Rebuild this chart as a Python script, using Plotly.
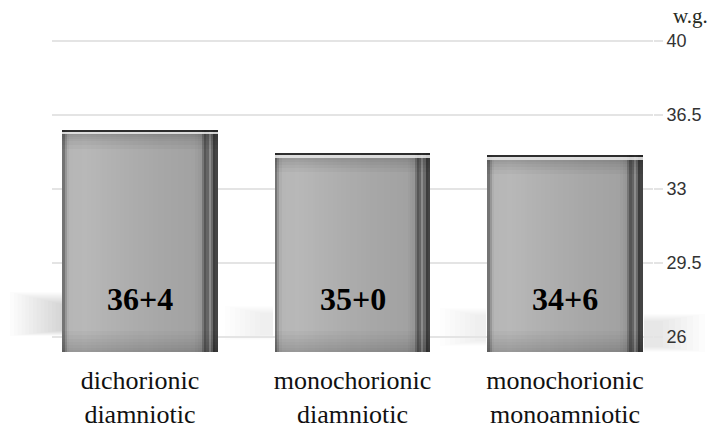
import plotly.graph_objects as go

# ---- data ----
categories = ["dichorionic<br>diamniotic", "monochorionic<br>diamniotic", "monochorionic<br>monoamniotic"]
bar_values = [35.8, 34.7, 34.6]          # visual bar heights (weeks of gestation)
bar_labels = ["36+4", "35+0", "34+6"]
y_ticks = [26, 29.5, 33, 36.5, 40]
y_tick_labels = ["26", "29.5", "33", "36.5", "40"]
axis_unit = "w.g."

# ---- style ----
BASE = 25.3
BAR_W = 0.73
N_STRIPS = 70
# horizontal metallic profile: (fraction across bar, gray level)
profile = [(0.00, 95), (0.015, 140), (0.04, 182), (0.15, 184), (0.35, 176),
           (0.60, 168), (0.85, 162), (0.895, 150), (0.92, 85), (0.94, 105),
           (0.955, 158), (0.97, 75), (0.985, 50), (1.00, 85)]


def gray_at(f):
    for (f0, g0), (f1, g1) in zip(profile[:-1], profile[1:]):
        if f0 <= f <= f1:
            t = 0 if f1 == f0 else (f - f0) / (f1 - f0)
            return g0 + t * (g1 - g0)
    return profile[-1][1]


xs = list(range(len(categories)))
fig = go.Figure()

step = BAR_W / N_STRIPS
for i in range(N_STRIPS):
    off = -BAR_W / 2 + i * step
    w = min(step * 1.8, BAR_W / 2 - off)
    g = int(round(gray_at((i + 0.5) / N_STRIPS)))
    fig.add_trace(go.Bar(
        x=xs, y=[v - BASE for v in bar_values], base=BASE,
        width=w, offset=off,
        marker=dict(color=f"rgb({g},{g},{g})", line=dict(width=0)),
        hoverinfo="skip", showlegend=False))

# vertical shading overlays: (anchor, start offset, height, colour)
overlays = [("bottom", 0.0, h, "rgba(0,0,0,0.025)") for h in (1.0, 0.8, 0.6, 0.45, 0.3, 0.18, 0.08)]
overlays += [("top", 0.0, h, "rgba(0,0,0,0.03)") for h in (0.9, 0.7, 0.55, 0.42, 0.32, 0.24)]
overlays += [
    ("top", 0.10, 0.12, "rgba(235,235,235,0.85)"),
    ("top", 0.0, 0.10, "rgba(35,35,35,0.9)"),
]
for anchor, start, h, col in overlays:
    if anchor == "top":
        base = [v - start - h for v in bar_values]
    else:
        base = [BASE + start] * len(bar_values)
    fig.add_trace(go.Bar(
        x=xs, y=[h] * len(bar_values), base=base,
        width=BAR_W, offset=-BAR_W / 2,
        marker=dict(color=col, line=dict(width=0)),
        hoverinfo="skip", showlegend=False))

# value labels
for xi, lab in zip(xs, bar_labels):
    fig.add_annotation(x=xi, y=27.8, text=f"<b>{lab}</b>", showarrow=False,
                       font=dict(family="Liberation Serif", size=32, color="#000"))

fig.add_annotation(xref="paper", yref="paper", x=1, y=1, xanchor="left", yanchor="middle",
                   xshift=18, yshift=4, text=axis_unit, showarrow=False,
                   font=dict(family="Liberation Serif", size=21, color="#262b1e"))


# soft shadows (decoration)
def px2x(px):
    return (px - 52) / 601


def py2y(py):
    return (360 - py) / 340


shadows = []
for k in range(14):
    shadows.append((10 + k * 3.8, 292 + k * 0.9, 63, 336 - k * 0.4, 0.011))
for k in range(8):
    shadows.append((225 + k * 5, 306 + k, 273, 340 - k * 0.7, 0.009))
    shadows.append((440 + k * 5, 308 + k, 486, 346 - k * 0.7, 0.009))
for k in range(8):
    shadows.append((644, 314 + k, 705 - k * 6, 352 - k * 0.7, 0.011))

for x0, y0, x1, y1, a in shadows:
    fig.add_shape(type="rect", xref="paper", yref="paper",
                  x0=px2x(x0), x1=px2x(x1), y0=py2y(y1), y1=py2y(y0),
                  line=dict(width=0), fillcolor=f"rgba(0,0,0,{a})", layer="below")

fig.update_layout(
    width=711, height=430,
    margin=dict(l=52, r=58, t=20, b=70, autoexpand=False),
    paper_bgcolor="white", plot_bgcolor="white",
    barmode="overlay", bargap=0,
    showlegend=False,
    xaxis=dict(range=[-0.414, 2.414], tickvals=xs, ticktext=categories,
               showgrid=False, zeroline=False, showline=False, ticks="",
               tickfont=dict(family="Liberation Serif", size=26, color="#111"),
               ticklabelstandoff=2, fixedrange=True, automargin=False),
    yaxis=dict(side="right", range=[24.91, 40.99], tickvals=y_ticks, ticktext=y_tick_labels,
               showgrid=True, gridcolor="#e4e4e4", gridwidth=2, zeroline=False, showline=False,
               ticks="outside", ticklen=9, tickcolor="#e4e4e4", tickwidth=2,
               tickfont=dict(family="Liberation Sans", size=18, color="#333"),
               fixedrange=True, automargin=False),
)

fig.write_html("out.html", config={"displayModeBar": False},
               post_script="document.body.style.margin='0';document.body.style.overflow='hidden';")
